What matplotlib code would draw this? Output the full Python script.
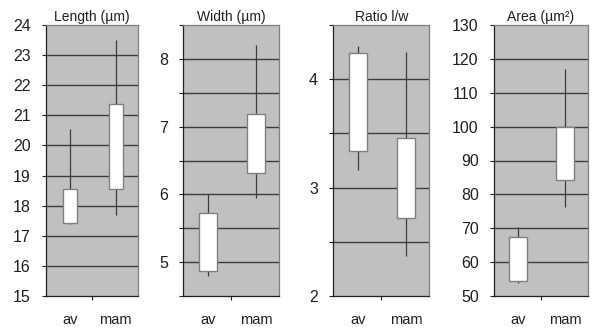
import matplotlib.pyplot as plt
import numpy as np

plt.rcParams['font.family'] = ['Liberation Sans', 'DejaVu Sans']

groups = ["av", "mam"]

titles = ["Length (µm)", "Width (µm)", "Ratio l/w", "Area (µm²)"]

# per panel: box low, box high, whisker low, whisker high (av, mam)
box_low = [[17.42, 18.55], [4.87, 6.31], [3.34, 2.72], [54.4, 84.2]]
box_high = [[18.55, 21.36], [5.73, 7.19], [4.24, 3.46], [67.4, 100.0]]
whisk_low = [[17.38, 17.68], [4.79, 5.94], [3.16, 2.37], [53.7, 76.4]]
whisk_high = [[20.55, 23.5], [6.0, 8.21], [4.31, 4.25], [70.5, 117.1]]

ylims = [(15, 24), (4.5, 8.5), (2, 4.5), (50, 130)]
grid_steps = [1, 0.5, 0.5, 10]
label_steps = [1, 1, 1, 10]

# axes frames in pixels (left, right), shared top/bottom
W, H = 594, 329
frames = [(46, 137.7), (183.3, 279.3), (333.3, 429.3), (494, 587.7)]
box_widths = [0.3, 0.38, 0.38, 0.38]
top_px, bot_px = 25, 296

bg = "#c0c0c0"
gridc = "#3c3c3c"
edge = "#808080"

fig = plt.figure(figsize=(W / 100, H / 100), dpi=100)

for i, (x0, x1) in enumerate(frames):
    ax = fig.add_axes([x0 / W, (H - bot_px) / H, (x1 - x0) / W, (bot_px - top_px) / H])
    ax.set_facecolor(bg)
    lo, hi = ylims[i]
    ax.set_ylim(lo, hi)
    ax.set_xlim(0, 2)

    ticks = np.arange(lo, hi + 1e-9, grid_steps[i])
    ax.set_yticks(ticks)
    labels = []
    for t in ticks:
        if abs(t / label_steps[i] - round(t / label_steps[i])) < 1e-6:
            labels.append(f"{t:g}")
        else:
            labels.append("")
    ax.set_yticklabels(labels)
    for t in ticks[1:-1] if ticks[-1] >= hi - 1e-9 else ticks[1:]:
        ax.axhline(t, color=gridc, lw=1.0, zorder=1)

    pos = np.array([0.52, 1.52])
    ax.vlines(pos, whisk_low[i], whisk_high[i], color=gridc, lw=0.9, zorder=2)
    heights = np.array(box_high[i]) - np.array(box_low[i])
    ax.bar(pos, heights, bottom=box_low[i], width=box_widths[i], color="white",
           edgecolor=edge, linewidth=1.0, zorder=3)

    ax.set_xticks([1])
    ax.set_xticklabels([""])
    ax.tick_params(axis="x", length=3, color="#202020", width=0.8)
    for p, g in zip(pos, groups):
        ax.text(p, -0.09, g, transform=ax.get_xaxis_transform(),
                ha="center", va="center", fontsize=10.5, color="#202020")
    ax.tick_params(axis="y", length=3, width=0.8, color="#202020",
                   labelsize=11.5, pad=8, labelcolor="#202020")

    ax.spines["left"].set_color("#202020")
    ax.spines["bottom"].set_color("#202020")
    ax.spines["left"].set_linewidth(0.9)
    ax.spines["bottom"].set_linewidth(0.9)
    ax.spines["top"].set_color(edge)
    ax.spines["right"].set_color(edge)
    ax.spines["top"].set_linewidth(0.9)
    ax.spines["right"].set_linewidth(0.9)

    ax.set_title(titles[i], fontsize=10, pad=3, color="#202020")

fig.savefig("out.png", dpi=100)
